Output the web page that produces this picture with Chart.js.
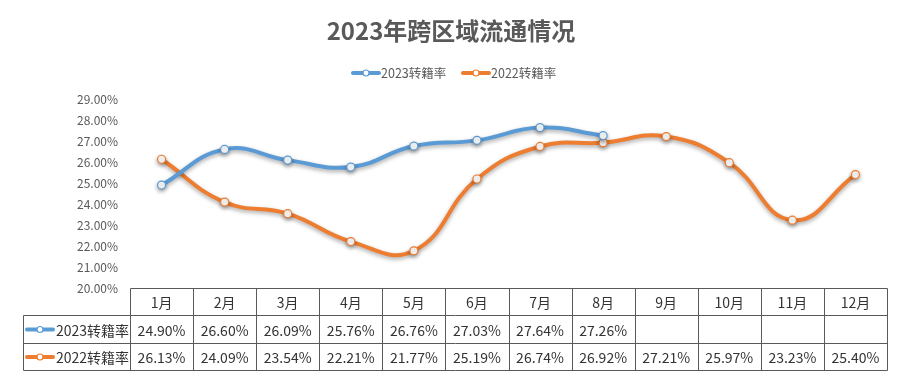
<!DOCTYPE html>
<html>
<head>
<meta charset="utf-8">
<script src="https://cdn.jsdelivr.net/npm/chart.js@4.4.0/dist/chart.umd.min.js"></script>
<style>
  html, body { margin: 0; padding: 0; background: #fff; }
  #wrap { width: 902px; height: 377px; }
</style>
</head>
<body>
<div id="wrap"><canvas id="chart" width="902" height="377"></canvas></div>
<script>
const months = ['1月', '2月', '3月', '4月', '5月', '6月', '7月', '8月', '9月', '10月', '11月', '12月'];
const rate2023 = [24.90, 26.60, 26.09, 25.76, 26.76, 27.03, 27.64, 27.26, null, null, null, null];
const rate2022 = [26.13, 24.09, 23.54, 22.21, 21.77, 25.19, 26.74, 26.92, 27.21, 25.97, 23.23, 25.40];
const seriesNames = ['2023转籍率', '2022转籍率'];
const chartTitle = '2023年跨区域流通情况';

const BLUE = '#5B9BD5';
const ORANGE = '#ED7D31';
const TEXT = '#595959';
const FONT = '"Noto Sans CJK SC", "Noto Sans", sans-serif';

function drawMarker(ctx, x, y, color) {
    ctx.save();
    ctx.strokeStyle = color;
    ctx.lineWidth = 4;
    ctx.lineCap = 'round';
    ctx.beginPath();
    ctx.moveTo(x, y);
    ctx.lineTo(x + 26, y);
    ctx.stroke();
    ctx.fillStyle = '#fff';
    ctx.lineWidth = 1.2;
    ctx.beginPath();
    ctx.arc(x + 13, y, 3, 0, Math.PI * 2);
    ctx.fill();
    ctx.stroke();
    ctx.restore();
}

// shadow under the lines, like the Excel original
const lineShadow = {
    id: 'lineShadow',
    beforeDatasetDraw(chart) {
        const ctx = chart.ctx;
        ctx.save();
        ctx.shadowColor = 'rgba(0,0,0,0.35)';
        ctx.shadowBlur = 4;
        ctx.shadowOffsetY = 2;
    },
    afterDatasetDraw(chart) {
        chart.ctx.restore();
    }
};

const extras = {
    id: 'extras',
    afterDraw(chart) {
        const ctx = chart.ctx;
        const area = chart.chartArea;
        const xs = chart.scales.x;

        // Title
        ctx.save();
        ctx.fillStyle = TEXT;
        ctx.font = 'bold 24px ' + FONT;
        ctx.textAlign = 'center';
        ctx.textBaseline = 'middle';
        ctx.fillText(chartTitle, 451, 31);

        // Legend
        ctx.font = '12.5px ' + FONT;
        ctx.textAlign = 'left';
        drawMarker(ctx, 353, 73, BLUE);
        ctx.fillStyle = TEXT;
        ctx.fillText(seriesNames[0], 381, 73);
        drawMarker(ctx, 463, 73, ORANGE);
        ctx.fillStyle = TEXT;
        ctx.fillText(seriesNames[1], 491, 73);

        // Data table
        const colW = (area.right - area.left) / months.length;
        const top = Math.round(area.bottom);
        const rowH = 27.3;
        const leftEdge = 23;
        const rows = [top, top + rowH, top + rowH * 2, top + rowH * 3].map(v => Math.round(v) + 0.5);

        ctx.strokeStyle = '#595959';
        ctx.lineWidth = 1;
        ctx.beginPath();
        ctx.moveTo(Math.round(area.left) + 0.5, rows[0]);
        ctx.lineTo(Math.round(area.right) + 0.5, rows[0]);
        for (let r = 1; r < 4; r++) {
            ctx.moveTo(leftEdge + 0.5, rows[r]);
            ctx.lineTo(Math.round(area.right) + 0.5, rows[r]);
        }
        ctx.moveTo(leftEdge + 0.5, rows[1]);
        ctx.lineTo(leftEdge + 0.5, rows[3]);
        for (let i = 0; i <= months.length; i++) {
            const bx = Math.round(area.left + colW * i) + 0.5;
            ctx.moveTo(bx, rows[0]);
            ctx.lineTo(bx, rows[3]);
        }
        ctx.stroke();

        ctx.fillStyle = '#333';
        ctx.font = '14px ' + FONT;
        ctx.textAlign = 'center';
        ctx.textBaseline = 'middle';
        months.forEach((m, i) => {
            const cx = xs.getPixelForValue(i);
            ctx.fillText(m, cx, (rows[0] + rows[1]) / 2 + 1);
            if (rate2023[i] !== null) ctx.fillText(rate2023[i].toFixed(2) + '%', cx, (rows[1] + rows[2]) / 2 + 1);
            if (rate2022[i] !== null) ctx.fillText(rate2022[i].toFixed(2) + '%', cx, (rows[2] + rows[3]) / 2 + 1);
        });

        // row labels with legend keys
        [BLUE, ORANGE].forEach((c, k) => {
            const cy = (rows[k + 1] + rows[k + 2]) / 2;
            drawMarker(ctx, 27, cy, c);
            ctx.fillStyle = '#333';
            ctx.textAlign = 'left';
            ctx.fillText(seriesNames[k], 56, cy + 1);
        });
        ctx.restore();
    }
};

const ctx = document.getElementById('chart').getContext('2d');
new Chart(ctx, {
    type: 'line',
    data: {
        labels: months,
        datasets: [
            {
                label: seriesNames[0],
                data: rate2023,
                borderColor: BLUE,
                borderWidth: 4,
                tension: 0.45,
                pointRadius: 4,
                pointBackgroundColor: '#fff',
                pointBorderColor: BLUE,
                pointBorderWidth: 1.2,
                spanGaps: false
            },
            {
                label: seriesNames[1],
                data: rate2022,
                borderColor: ORANGE,
                borderWidth: 4,
                tension: 0.45,
                pointRadius: 4,
                pointBackgroundColor: '#fff',
                pointBorderColor: ORANGE,
                pointBorderWidth: 1.2
            }
        ]
    },
    options: {
        responsive: false,
        animation: false,
        layout: { padding: { left: 0, right: 15, top: 99, bottom: 89 } },
        plugins: {
            legend: { display: false },
            title: { display: false },
            tooltip: { enabled: false }
        },
        scales: {
            x: { type: 'category', display: false, offset: true },
            y: {
                min: 20, max: 29,
                grid: { display: false, drawTicks: false },
                border: { display: false },
                ticks: {
                    stepSize: 1,
                    padding: 12,
                    color: TEXT,
                    font: { size: 12, family: FONT },
                    callback: v => v.toFixed(2) + '%'
                },
                afterFit(scale) { scale.width = 130; }
            }
        }
    },
    plugins: [lineShadow, extras]
});
</script>
</body>
</html>
